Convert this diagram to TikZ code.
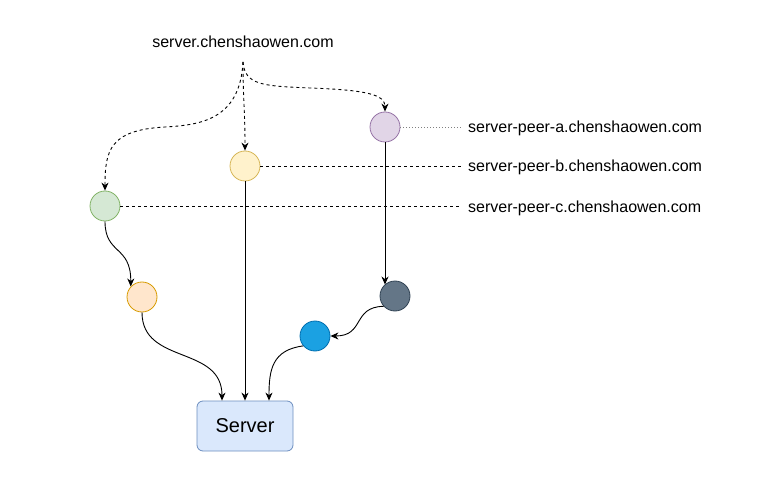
\documentclass[tikz,border=0pt]{standalone}
\usepackage{fontspec}
\setmainfont{Liberation Sans}
\usetikzlibrary{arrows.meta}
\definecolor{purpF}{HTML}{E1D5E7}\definecolor{purpD}{HTML}{9673A6}
\definecolor{yelF}{HTML}{FFF2CC}\definecolor{yelD}{HTML}{D6B656}
\definecolor{grnF}{HTML}{D5E8D4}\definecolor{grnD}{HTML}{82B366}
\definecolor{orgF}{HTML}{FFE6CC}\definecolor{orgD}{HTML}{D79B00}
\definecolor{gryF}{HTML}{647687}\definecolor{gryD}{HTML}{314354}
\definecolor{bluF}{HTML}{1BA1E2}\definecolor{bluD}{HTML}{006EAF}
\definecolor{srvF}{HTML}{DAE8FC}\definecolor{srvD}{HTML}{6C8EBF}
\tikzset{
  dot/.style={circle,minimum size=30pt,inner sep=0pt,line width=0.8pt},
  lbl/.style={anchor=west,inner sep=0pt,font=\fontsize{16}{19}\selectfont},
  arr/.style={line width=0.9pt,-{Stealth[length=8pt,width=7pt,inset=2.5pt]}},
  darr/.style={arr,dash pattern=on 3pt off 3pt},
  guide/.style={line width=0.8pt,dash pattern=on 3pt off 3pt,shorten >=6pt},
  fine/.style={line width=0.5pt,gray,dash pattern=on 1pt off 2pt,shorten >=6pt}
}
\begin{document}
\begin{tikzpicture}[x=1pt,y=-1pt]
\useasboundingbox (0,0) rectangle (773,494);
\node[font=\fontsize{16}{19}\selectfont,inner sep=0pt] (title) at (243,42) {server.chenshaowen.com};
\coordinate (src) at (243,62);
\node[dot,fill=purpF,draw=purpD] (pa) at (385,127) {};
\node[dot,fill=yelF,draw=yelD] (pb) at (245,166) {};
\node[dot,fill=grnF,draw=grnD] (pc) at (105,206) {};
\node[dot,fill=orgF,draw=orgD] (org) at (142,297) {};
\node[dot,fill=gryF,draw=gryD] (gry) at (395,296) {};
\node[dot,fill=bluF,draw=bluD] (blu) at (315,336) {};
\node[draw=srvD,fill=srvF,line width=0.8pt,rounded corners=6pt,minimum width=96pt,minimum height=50pt,font=\fontsize{20}{23}\selectfont] (srv) at (245,426) {Server};
\node[lbl] (la) at (468,128) {server-peer-a.chenshaowen.com};
\node[lbl] (lb) at (468,167) {server-peer-b.chenshaowen.com};
\node[lbl] (lc) at (468,208) {server-peer-c.chenshaowen.com};
% guide lines
\draw[fine] (pa.east) -- (pa.east -| la.west);
\draw[guide] (pb.east) -- (pb.east -| lb.west);
\draw[guide] (pc.east) -- (pc.east -| lc.west);
% dashed arrows
\draw[darr] (src) .. controls (245,85) and (262,86) .. (310,88) .. controls (368,90) and (385,95) .. (pa.north);
\draw[darr] (src) .. controls (243,100) and (245,110) .. (pb.north);
\draw[darr] (src) .. controls (240,120) and (200,125) .. (165,127) .. controls (110,130) and (105,150) .. (pc.north);
% solid arrows
\draw[arr] (pc.south) .. controls (105,255) and (131,245) .. (org.137);
\draw[arr] (pb.south) -- (srv.north);
\draw[arr] (pa.south) -- (pa.south |- gry.132);
\draw[arr] (org.south) .. controls (142,365) and (222,345) .. ([xshift=-23pt]srv.north);
\draw[arr] (gry.222) .. controls (352,307) and (365,336) .. (blu.east);
\draw[arr] (blu.220) .. controls (272,350) and (269,370) .. ([xshift=24pt]srv.north);
\end{tikzpicture}
\end{document}
